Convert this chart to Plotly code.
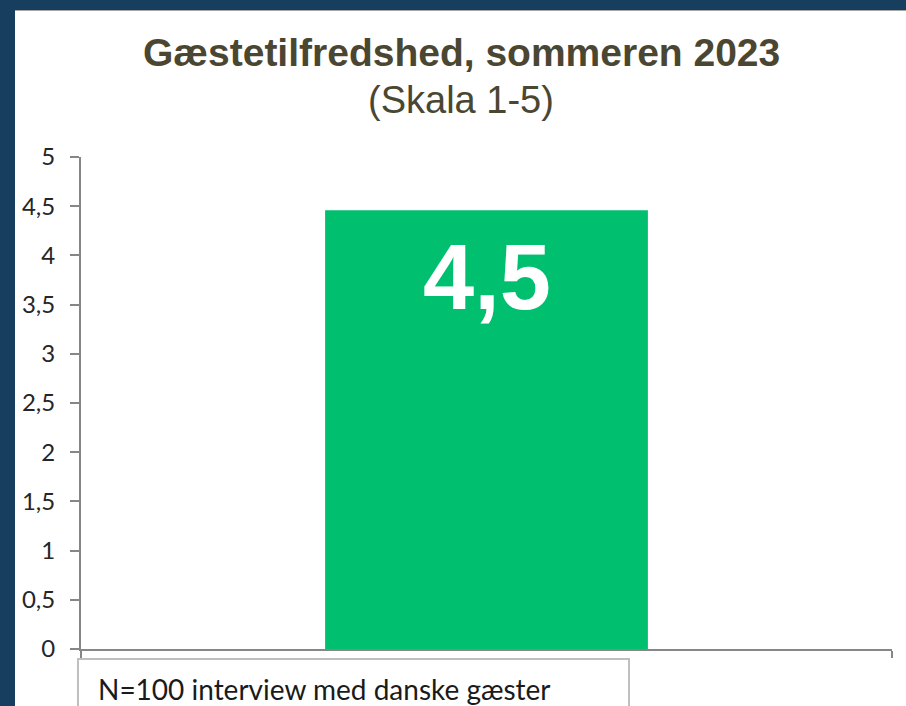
import plotly.graph_objects as go

categories = ["Gæstetilfredshed"]
values = [4.46]
value_labels = ["4,5"]
y_ticks = [0, 0.5, 1, 1.5, 2, 2.5, 3, 3.5, 4, 4.5, 5]
title_main = "Gæstetilfredshed, sommeren 2023"
title_sub = "(Skala 1-5)"
note_text = "N=100 interview med danske gæster"

W, H = 906, 706
L, R, T, B = 81, 14, 157, 57
pw, ph = W - L - R, H - T - B

def px_x(x):
    return (x - L) / pw

def px_y(y):
    return (H - B - y) / ph

NAVY = "#173D5F"
GREEN = "#00BF6F"
AXIS = "#868686"
TITLE_C = "#4B4632"

fig = go.Figure()
fig.add_trace(go.Bar(
    x=categories, y=values, marker=dict(color=GREEN, line=dict(width=0)),
    hoverinfo="skip", width=0.398,
))

for c, v, t in zip(categories, values, value_labels):
    fig.add_annotation(x=c, y=v, xref="x", yref="y", text=t, showarrow=False,
                       yanchor="top", yshift=-14,
                       font=dict(family="Liberation Sans, Arial", size=92, color="white", weight="bold"))

shapes = [
    # white panel
    dict(type="rect", xref="paper", yref="paper", x0=px_x(15), x1=px_x(W + 5), y0=px_y(H + 5), y1=px_y(10),
         fillcolor="white", line=dict(width=0), layer="below"),
    # thin top line of panel
    dict(type="line", xref="paper", yref="paper", x0=px_x(15), x1=px_x(W), y0=px_y(10.5), y1=px_y(10.5),
         line=dict(color="#A6A6A6", width=1), layer="below"),
    # note box
    dict(type="rect", xref="paper", yref="paper", x0=px_x(78), x1=px_x(629), y0=px_y(H + 10), y1=px_y(659),
         fillcolor="white", line=dict(color="#BFBFBF", width=2), layer="above"),
]

fig.add_annotation(xref="paper", yref="paper", x=px_x(96), y=px_y(689), xanchor="left", yanchor="middle",
                   text=note_text, showarrow=False,
                   font=dict(family="Lato, Carlito, Calibri", size=28, color="#1a1a1a"))

fig.add_annotation(xref="paper", yref="paper", x=px_x(461), y=px_y(52), xanchor="center", yanchor="middle",
                   text="<b>" + title_main + "</b>", showarrow=False,
                   font=dict(family="Liberation Sans, Arial", size=39, color=TITLE_C))
fig.add_annotation(xref="paper", yref="paper", x=px_x(461), y=px_y(100), xanchor="center", yanchor="middle",
                   text=title_sub, showarrow=False,
                   font=dict(family="Liberation Sans, Arial", size=38, color=TITLE_C))

fig.update_layout(
    width=W, height=H,
    margin=dict(l=L, r=R, t=T, b=B, pad=0),
    paper_bgcolor=NAVY, plot_bgcolor="white",
    separators=", ",
    showlegend=False,
    shapes=shapes,
    xaxis=dict(type="category", range=[-0.5, 0.5], showticklabels=False, showgrid=False,
               showline=True, linecolor=AXIS, linewidth=2, ticks="outside", tickson="boundaries",
               ticklen=7, tickcolor=AXIS, tickwidth=2, zeroline=False, fixedrange=True),
    yaxis=dict(range=[0, 5], tickvals=y_ticks, showgrid=False, showline=True, linecolor=AXIS, linewidth=2,
               ticks="outside", ticklen=9, tickcolor=AXIS, tickwidth=2, zeroline=False,
               tickfont=dict(family="Lato, Carlito, Calibri", size=24, color="#262626"),
               ticklabelstandoff=10, fixedrange=True),
)

fig.write_html("out.html", config={"displayModeBar": False},
               post_script="document.body.style.margin='0px';document.body.style.padding='0px';document.body.style.overflow='hidden';document.body.style.background='" + NAVY + "';")
